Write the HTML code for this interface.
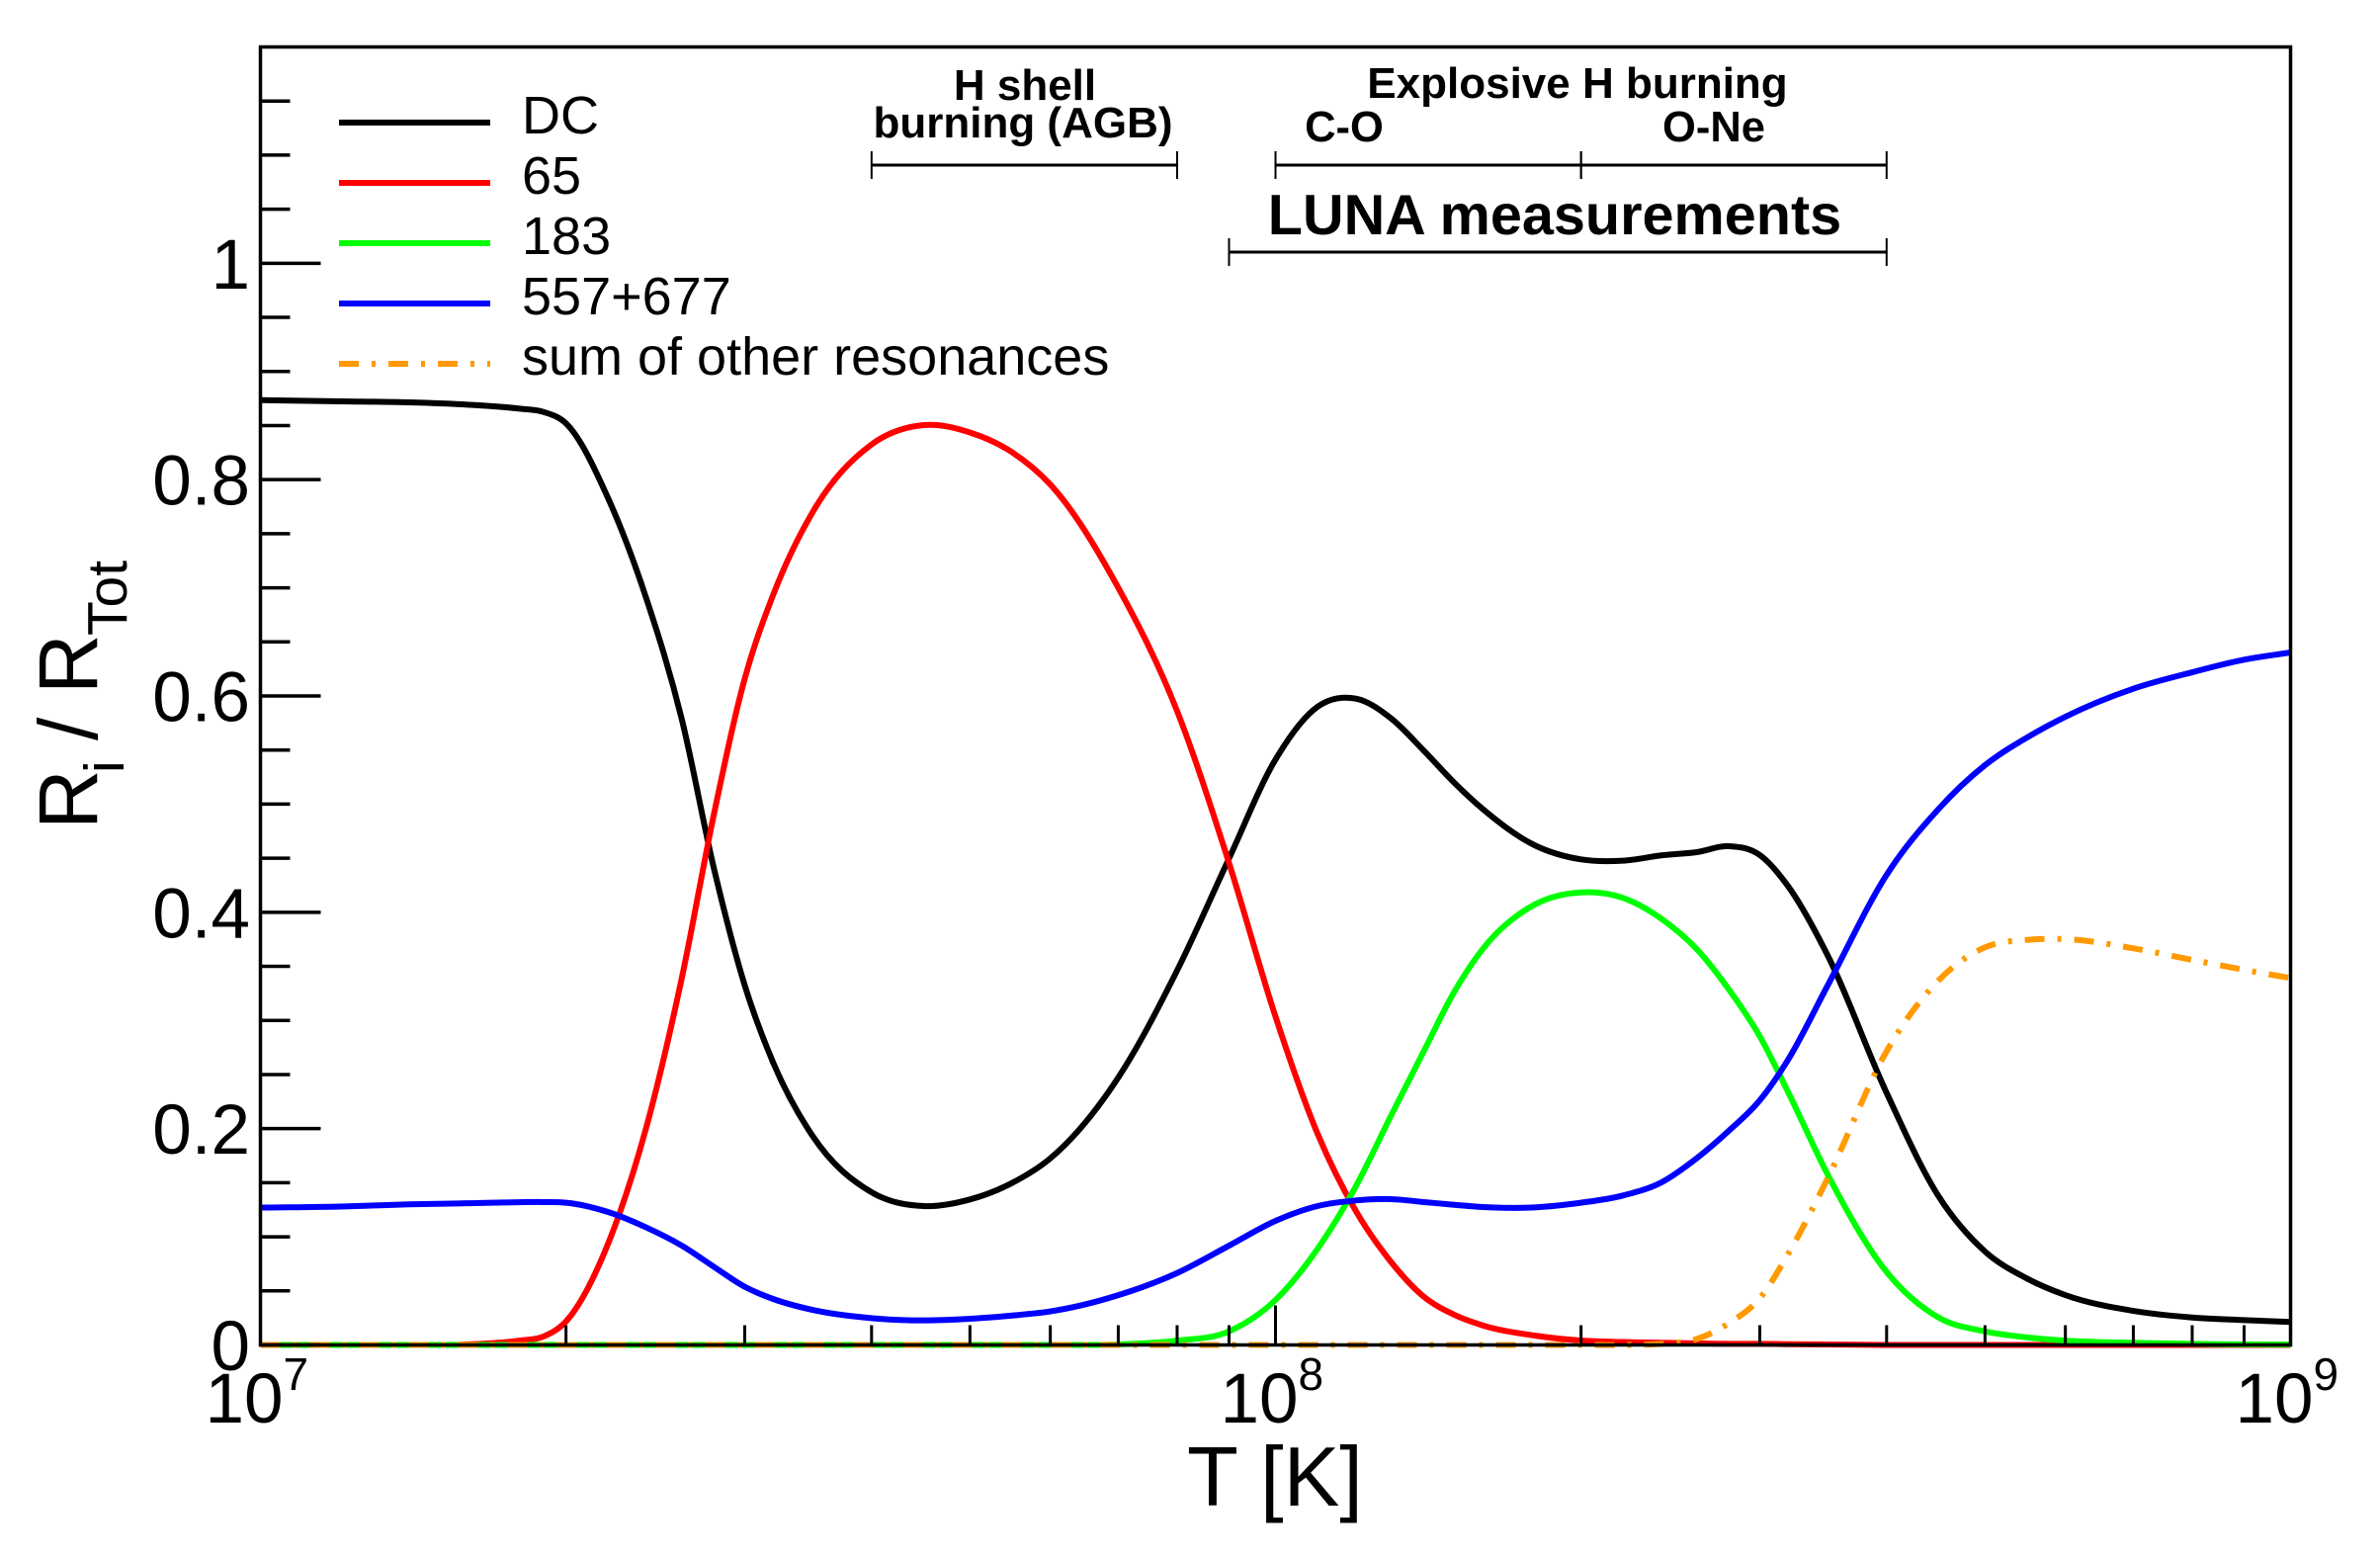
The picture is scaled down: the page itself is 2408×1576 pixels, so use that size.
<!DOCTYPE html>
<html lang="en">
<head>
<meta charset="utf-8">
<title>Resonance contributions to reaction rate</title>
<style>
html,body{margin:0;padding:0;background:#fff}
svg{display:block}
text{font-family:"Liberation Sans",sans-serif;fill:#000}
.b{font-weight:bold}
</style>
</head>
<body>
<svg id="chart" xmlns="http://www.w3.org/2000/svg" width="2408" height="1576" viewBox="0 0 2408 1576">
  <defs>
    <clipPath id="plot-clip"><rect x="263.5" y="47.5" width="2054" height="1320"/></clipPath>
  </defs>
  <rect x="0" y="0" width="2408" height="1576" fill="#fff"/>
  <g id="series-layer" clip-path="url(#plot-clip)"></g>
  <g id="axis-layer"></g>
  <g id="range-layer"></g>

  <g>
    <g>
      <line x1="343" x2="496" y1="124" y2="124" stroke="#000" stroke-width="6"/>
      <text x="528" y="135" font-size="54">DC</text>
    </g>
    <g>
      <line x1="343" x2="496" y1="185" y2="185" stroke="#f00" stroke-width="6"/>
      <text x="528" y="196" font-size="54">65</text>
    </g>
    <g>
      <line x1="343" x2="496" y1="246" y2="246" stroke="#0f0" stroke-width="6"/>
      <text x="528" y="257" font-size="54">183</text>
    </g>
    <g>
      <line x1="343" x2="496" y1="307" y2="307" stroke="#00f" stroke-width="6"/>
      <text x="528" y="318" font-size="54">557+677</text>
    </g>
    <g>
      <line x1="343" x2="496" y1="368" y2="368" stroke="#ff9a00" stroke-width="6" stroke-dasharray="20 13 4 13"/>
      <text x="528" y="379" font-size="54">sum of other resonances</text>
    </g>
  </g>

  <text class="b" x="1037" y="101" font-size="44" text-anchor="middle">H shell</text>
  <text class="b" x="1035" y="139" font-size="44" text-anchor="middle">burning (AGB)</text>
  <text class="b" x="1596" y="99" font-size="44" text-anchor="middle">Explosive H burning</text>
  <text class="b" x="1360" y="143" font-size="43.5" text-anchor="middle">C-O</text>
  <text class="b" x="1734" y="143" font-size="43.5" text-anchor="middle">O-Ne</text>
  <text class="b" x="1573" y="237" font-size="57.6" text-anchor="middle">LUNA measurements</text>

  <text x="1201" y="1523" font-size="85">T [K]</text>
  <g transform="translate(98,839) rotate(-90)">
    <text x="0" y="0" font-size="84">R</text>
    <text x="57" y="27" font-size="57">i</text>
    <text x="90" y="0" font-size="84">/</text>
    <text x="137" y="0" font-size="84">R</text>
    <text x="196" y="30" font-size="57">Tot</text>
  </g>
</svg>

<script>
// Temperature grid in units of 10^7 K
const temperature = [1,1.2,1.4,1.6,1.8,1.9,2,2.2,2.4,2.6,2.8,3,3.2,3.5,4,4.5,5,5.5,6,7,8,9,10,11,12,13,14,15,16,18,20,22,24,26,28,30,32,35,40,45,50,55,60,70,80,90,100];
const dcValues = [.8735,.8724,.8714,.8693,.8656,.8626,.852,.783,.690,.579,.439,.3325,.261,.1931,.1412,.1284,.1345,.1497,.1725,.2472,.3462,.4498,.5412,.590,.5975,.5792,.5494,.5198,.4955,.462,.4489,.4477,.4526,.4556,.4611,.4529,.4239,.360,.233,.1375,.0864,.0614,.0461,.0315,.0254,.023,.0212];
const r65Values = [0,0,0,.0005,.004,.0078,.0218,.0935,.2015,.3386,.4925,.616,.6935,.770,.8325,.8504,.8436,.8254,.7955,.70,.586,.4455,.3036,.1954,.1238,.0766,.0446,.0279,.0181,.0087,.0041,.0027,.002,.0015,.001,.001,.0007,.0005,0,0,0,0,0,0,0,0,0];
const r183Values = [0,0,0,0,0,0,0,0,0,0,0,0,0,0,0,0,0,0,0,.0005,.004,.0126,.0416,.0888,.1467,.2122,.2716,.3264,.366,.4071,.4184,.4133,.394,.366,.328,.2853,.2335,.1574,.0675,.0254,.0125,.007,.004,.002,.001,.0005,.0003];
const r557Values = [.127,.128,.130,.131,.132,.1321,.1315,.1229,.1086,.0919,.072,.0538,.0425,.0324,.0248,.0227,.0242,.0272,.031,.046,.0665,.0918,.1147,.1284,.1336,.1348,.1321,.1296,.1275,.1272,.1315,.1382,.1503,.1726,.1985,.2262,.264,.3325,.4346,.4955,.536,.5616,.5808,.6067,.6219,.6335,.6402];
const otherValues = [0,0,0,0,0,0,0,0,0,0,0,0,0,0,0,0,0,0,0,0,0,0,0,0,0,0,0,0,0,0,0,0,.001,.0055,.0204,.0432,.0843,.1543,.2716,.337,.3676,.3745,.3752,.3667,.356,.3468,.3392];
const yTickValues = [0,0.2,0.4,0.6,0.8,1];
const yTickLabels = ["0","0.2","0.4","0.6","0.8","1"];
const yMinorTickValues = [0.05,0.1,0.15,0.25,0.3,0.35,0.45,0.5,0.55,0.65,0.7,0.75,0.85,0.9,0.95,1.05,1.1,1.15];
const xDecadeValues = [1e7,1e8,1e9];
const xDecadeExponents = ["7","8","9"];
const xMinorMultipliers = [2,3,4,5,6,7,8,9];
const rangeStarts = [4e7,1e8,2e8,9e7];
const rangeEnds = [8e7,2e8,4e8,4e8];
const rangeRows = [167,167,167,255];
const rangeNames = ["h-shell-range","c-o-range","o-ne-range","luna-range"];

const SVGNS = "http://www.w3.org/2000/svg";
const PL = 263.5, PR = 2317.5, PT = 47.5, PB = 1360.5;
const X_MIN = 7, X_MAX = 9, Y_MAX = 1.2;
function xScale(t){ return PL + (Math.log10(t) - X_MIN) / (X_MAX - X_MIN) * (PR - PL); }
function yScale(v){ return PB - v / Y_MAX * (PB - PT); }
function mk(tag, attrs, parent){
  const el = document.createElementNS(SVGNS, tag);
  for (const k in attrs) el.setAttribute(k, attrs[k]);
  parent.appendChild(el);
  return el;
}
function smoothPath(values){
  const p = values.map(function(v,i){ return [xScale(temperature[i]*1e7), yScale(v)]; });
  const n = p.length;
  const slope = p.map(function(pt,i){
    if (i === 0) return (p[1][1]-p[0][1])/(p[1][0]-p[0][0]);
    if (i === n-1) return (p[n-1][1]-p[n-2][1])/(p[n-1][0]-p[n-2][0]);
    const h1 = p[i][0]-p[i-1][0], h2 = p[i+1][0]-p[i][0];
    const d1 = (p[i][1]-p[i-1][1])/h1, d2 = (p[i+1][1]-p[i][1])/h2;
    return (h2*d1 + h1*d2)/(h1+h2);
  });
  let d = "M" + p[0][0].toFixed(2) + " " + p[0][1].toFixed(2);
  for (let i = 0; i < n - 1; i++){
    const b = p[i], c = p[i+1], h = c[0]-b[0];
    d += "C" + (b[0]+h/3).toFixed(2) + " " + (b[1]+slope[i]*h/3).toFixed(2) + " " +
         (c[0]-h/3).toFixed(2) + " " + (c[1]-slope[i+1]*h/3).toFixed(2) + " " +
         c[0].toFixed(2) + " " + c[1].toFixed(2);
  }
  return d;
}

const seriesLayer = document.getElementById("series-layer");
const axisLayer = document.getElementById("axis-layer");
const rangeLayer = document.getElementById("range-layer");

const dcLine = mk("path", {d:smoothPath(dcValues), fill:"none", stroke:"#000", "stroke-width":"6", "stroke-linejoin":"round"}, seriesLayer);


const r65Line = mk("path", {d:smoothPath(r65Values), fill:"none", stroke:"#f00", "stroke-width":"6", "stroke-linejoin":"round"}, seriesLayer);


const r183Line = mk("path", {d:smoothPath(r183Values), fill:"none", stroke:"#0f0", "stroke-width":"6", "stroke-linejoin":"round"}, seriesLayer);


const r557Line = mk("path", {d:smoothPath(r557Values), fill:"none", stroke:"#00f", "stroke-width":"6", "stroke-linejoin":"round"}, seriesLayer);


const otherLine = mk("path", {d:smoothPath(otherValues), fill:"none", stroke:"#ff9a00", "stroke-width":"6", "stroke-dasharray":"20 13 4 13"}, seriesLayer);



const frame = mk("rect", {x:PL, y:PT, width:PR-PL, height:PB-PT, fill:"none", stroke:"#000", "stroke-width":"3.5"}, axisLayer);



yTickValues.forEach(function(v,i){
  const tick = mk("line", {x1:PL, x2:PL+61, y1:yScale(v), y2:yScale(v), stroke:"#000", "stroke-width":"3.5"}, axisLayer);
  
  
  const label = mk("text", {x:253, y:yScale(v)+25.5, "font-size":"71", "text-anchor":"end"}, axisLayer);
  label.textContent = yTickLabels[i];
  
  
});
yMinorTickValues.forEach(function(v){
  const tick = mk("line", {x1:PL, x2:PL+30, y1:yScale(v), y2:yScale(v), stroke:"#000", "stroke-width":"3.5"}, axisLayer);
  
  
});
xDecadeValues.forEach(function(t,i){
  const px = xScale(t);
  const tick = mk("line", {x1:px, x2:px, y1:PB, y2:PB-40, stroke:"#000", "stroke-width":"3"}, axisLayer);
  
  
  const base = mk("text", {x:px-56, y:1439, "font-size":"71"}, axisLayer);
  base.textContent = "10";
  
  
  const exp = mk("text", {x:px+23, y:1406, "font-size":"46"}, axisLayer);
  exp.textContent = xDecadeExponents[i];
  
  
  if (i < xDecadeValues.length - 1){
    xMinorMultipliers.forEach(function(m){
      const mx = xScale(t*m);
      const mt = mk("line", {x1:mx, x2:mx, y1:PB, y2:PB-20, stroke:"#000", "stroke-width":"3"}, axisLayer);
      
      
    });
  }
});
rangeStarts.forEach(function(s,i){
  const x1 = xScale(s), x2 = xScale(rangeEnds[i]), y = rangeRows[i];
  const g = mk("g", {}, rangeLayer);
  
  
  mk("line", {x1:x1, x2:x2, y1:y, y2:y, stroke:"#000", "stroke-width":"3"}, g);
  mk("line", {x1:x1, x2:x1, y1:y-14, y2:y+14, stroke:"#000", "stroke-width":"2"}, g);
  mk("line", {x1:x2, x2:x2, y1:y-14, y2:y+14, stroke:"#000", "stroke-width":"2"}, g);
});
</script>
</body>
</html>
